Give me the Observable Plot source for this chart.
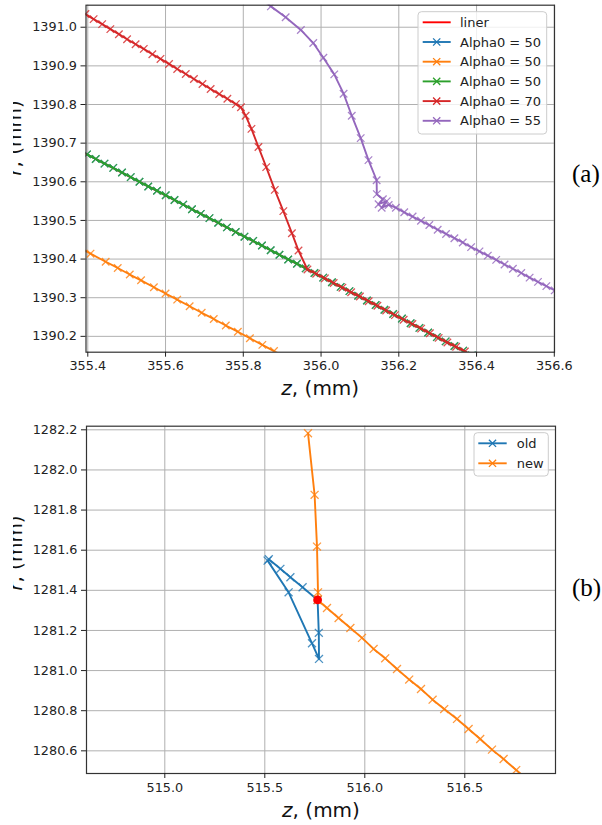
<!DOCTYPE html>
<html><head><meta charset="utf-8">
<script src="https://cdn.jsdelivr.net/npm/d3@7"></script>
<script src="https://cdn.jsdelivr.net/npm/@observablehq/plot@0.6"></script>
<style>
body{margin:0;background:#fff;width:602px;height:825px;position:relative;overflow:hidden}
#a{position:absolute;left:0;top:0}
#b{position:absolute;left:0;top:410px}
#mask{position:absolute;left:0;top:0;width:13px;height:825px;background:#fff}
</style></head><body>
<div id="a"></div><div id="b"></div><div id="mask"></div>
<script>
// ---------- Panel (a) data ----------
const namesA = ["liner", "Alpha0 = 50", "Alpha0 = 50", "Alpha0 = 50", "Alpha0 = 70", "Alpha0 = 55"];
const colorsA = ["#ff0000", "#1f77b4", "#ff7f0e", "#2ca02c", "#d62728", "#9467bd"];
const xTicksA = [355.4, 355.6, 355.8, 356.0, 356.2, 356.4, 356.6];
const yTicksA = [1390.2, 1390.3, 1390.4, 1390.5, 1390.6, 1390.7, 1390.8, 1390.9, 1391.0];

const linerZ = [355.39, 356.40];
const linerR = [1390.675, 1390.145];

const greenZ = [355.398,355.4205,355.443,355.4655,355.488,355.5105,355.533,355.5555,355.578,355.6005,355.623,355.6455,355.668,355.6905,355.713,355.7355,355.758,355.7805,355.803,355.8255,355.848,355.8705,355.893,355.9155,355.938,355.9605,355.983,356.0055,356.028,356.0505,356.073,356.0955,356.118,356.1405,356.163,356.1855,356.208,356.2305,356.253,356.2755,356.298,356.3205,356.343,356.3655,356.388];
const greenR = [1390.671,1390.659,1390.647,1390.636,1390.624,1390.612,1390.600,1390.588,1390.577,1390.565,1390.553,1390.541,1390.529,1390.517,1390.506,1390.494,1390.482,1390.470,1390.458,1390.447,1390.435,1390.423,1390.411,1390.399,1390.388,1390.376,1390.364,1390.352,1390.340,1390.328,1390.317,1390.305,1390.293,1390.281,1390.269,1390.258,1390.246,1390.234,1390.222,1390.210,1390.198,1390.187,1390.175,1390.163,1390.151];

// blue run lies under the green one
const blueZ = greenZ;
const blueR = greenR;

const orangeZ = [355.376,355.407,355.446,355.477,355.508,355.537,355.570,355.600,355.630,355.662,355.693,355.724,355.755,355.786,355.817,355.849,355.879,355.910];
const orangeR = [1390.431,1390.414,1390.393,1390.377,1390.360,1390.345,1390.327,1390.311,1390.295,1390.278,1390.261,1390.245,1390.228,1390.212,1390.195,1390.178,1390.162,1390.145];

const redZ = [355.394,355.415,355.437,355.458,355.480,355.501,355.523,355.544,355.566,355.587,355.609,355.630,355.652,355.673,355.695,355.716,355.738,355.759,355.781,355.794,
  355.806,355.821,355.839,355.859,355.881,355.903,355.925,355.942,
  355.965,355.9875,356.010,356.0325,356.055,356.0775,356.100,356.1225,356.145,356.1675,356.190,356.2125,356.235,356.2575,356.280,356.3025,356.325,356.3475,356.370,356.3925];
const redR = [1391.034,1391.021,1391.008,1390.995,1390.982,1390.969,1390.956,1390.944,1390.930,1390.918,1390.905,1390.892,1390.879,1390.866,1390.853,1390.840,1390.827,1390.815,1390.801,1390.793,
  1390.771,1390.737,1390.690,1390.638,1390.579,1390.524,1390.467,1390.422,
  1390.373,1390.362,1390.350,1390.338,1390.326,1390.314,1390.303,1390.291,1390.279,1390.267,1390.255,1390.243,1390.232,1390.220,1390.208,1390.196,1390.184,1390.173,1390.161,1390.149];

const purpleZ = [355.835,355.871,355.909,355.948,355.980,356.006,356.034,356.058,356.079,356.102,356.122,356.143,
  356.1435,356.159,356.148,356.169,356.156,356.174,
  356.1925,356.214,356.2355,356.257,356.2785,356.300,356.3215,356.343,356.3645,356.386,356.4075,356.429,356.4505,356.472,356.4935,356.515,356.5365,356.558,356.5795,356.601,356.6225];
const purpleR = [1391.080,1391.054,1391.026,1390.993,1390.959,1390.921,1390.878,1390.828,1390.771,1390.713,1390.656,1390.604,
  1390.568,1390.555,1390.542,1390.550,1390.533,1390.540,
  1390.533,1390.521,1390.510,1390.499,1390.488,1390.476,1390.465,1390.454,1390.443,1390.431,1390.420,1390.409,1390.398,1390.386,1390.375,1390.364,1390.352,1390.341,1390.330,1390.319,1390.307];

// ---------- Panel (b) data ----------
const namesB = ["old", "new"];
const colorsB = ["#1f77b4", "#ff7f0e"];
const xTicksB = [515.0, 515.5, 516.0, 516.5];
const yTicksB = [1280.6, 1280.8, 1281.0, 1281.2, 1281.4, 1281.6, 1281.8, 1282.0, 1282.2];

const oldZ = [515.520,515.578,515.628,515.689,515.764,515.770,515.771,515.736,515.619,515.514];
const oldR = [1281.555,1281.507,1281.465,1281.415,1281.352,1281.188,1281.058,1281.136,1281.390,1281.548];

const newZ = [515.716,515.749,515.761,515.766,515.764,515.811,515.869,515.928,515.986,516.044,516.102,516.161,516.222,516.281,516.339,516.397,516.461,516.519,516.577,516.636,516.694,516.757,516.815];
const newR = [1282.183,1281.876,1281.618,1281.390,1281.352,1281.312,1281.262,1281.212,1281.163,1281.108,1281.061,1281.008,1280.955,1280.908,1280.855,1280.808,1280.759,1280.709,1280.659,1280.606,1280.559,1280.504,1280.456];

const dotZ = [515.764];
const dotR = [1281.352];

const xLabel = "z, (mm)";
const yLabel = "r, (mm)";

// ---------- helpers ----------
const rows = (zs, rs) => zs.map((z, i) => ({z, r: rs[i]}));
const fmt = d3.format(".1f");
const gridStyle = {stroke: "#b0b0b0", strokeOpacity: 1, strokeWidth: 1};

function series(data, color, withMarkers, mr) {
  const m = [Plot.line(data, {x: "z", y: "r", stroke: color, strokeWidth: 1.9, clip: true})];
  if (withMarkers) m.push(Plot.dot(data, {x: "z", y: "r", symbol: "times", r: mr, stroke: color, strokeWidth: 1.3, strokeOpacity: 0.8, clip: true}));
  return m;
}

function panel(cfg) {
  const svg = Plot.plot({
    width: 602, height: cfg.height,
    marginLeft: cfg.ml, marginRight: cfg.mr, marginTop: cfg.mt, marginBottom: cfg.mb,
    style: {fontFamily: "'DejaVu Sans', sans-serif", fontSize: "12.8px", color: "#222", background: "white", overflow: "visible"},
    x: {domain: cfg.xDomain},
    y: {domain: cfg.yDomain},
    marks: [
      Plot.gridX(cfg.xTicks, gridStyle),
      Plot.gridY(cfg.yTicks, gridStyle),
      ...cfg.marks,
      Plot.frame({stroke: "#333", strokeWidth: 1.2}),
      Plot.axisX(cfg.xTicks, {tickSize: 5, tickPadding: 4, tickFormat: fmt, label: null}),
      Plot.axisY(cfg.yTicks, {tickSize: 5, tickPadding: 4, tickFormat: fmt, label: null}),
      Plot.text([xLabel], {text: d => d, frameAnchor: "bottom", dy: cfg.xdy, lineAnchor: "bottom", fontSize: 20, fill: "#111"}),
      Plot.text([yLabel], {text: d => d, frameAnchor: "left", dx: -65, dy: cfg.ydy, rotate: -90, lineAnchor: "bottom", fontSize: 20, fill: "#111"})
    ]
  });
  d3.select(svg).selectAll("text").each(function() {
    if (this.textContent === xLabel) this.innerHTML = '<tspan font-style="italic">z</tspan>, (mm)';
    else if (this.textContent === yLabel) this.innerHTML = '<tspan font-style="italic">r</tspan>, (mm)';
  });
  return svg;
}

function legend(svg, items, box, rowY, x0, x1, tx) {
  const g = d3.select(svg).append("g").attr("text-anchor", "start");
  g.append("rect").attr("x", box[0]).attr("y", box[1]).attr("width", box[2]).attr("height", box[3])
    .attr("rx", 3.5).attr("fill", "white").attr("fill-opacity", 0.8).attr("stroke", "#cccccc").attr("stroke-width", 1);
  items.forEach((it, i) => {
    const y = rowY[0] + i * rowY[1];
    g.append("line").attr("x1", x0).attr("x2", x1).attr("y1", y).attr("y2", y)
      .attr("stroke", it.color).attr("stroke-width", 1.9);
    if (it.marker) {
      const cx = (x0 + x1) / 2, s = 3.6;
      g.append("path").attr("d", `M${cx - s},${y - s}L${cx + s},${y + s}M${cx - s},${y + s}L${cx + s},${y - s}`)
        .attr("stroke", it.color).attr("stroke-width", 1.3).attr("fill", "none");
    }
    g.append("text").attr("x", tx).attr("y", y).attr("dy", "0.36em").attr("text-anchor", "start")
      .attr("font-family", "'DejaVu Sans', sans-serif").attr("font-size", 13).attr("fill", "#222").text(it.label);
  });
}

function tag(svg, label, x, y) {
  d3.select(svg).append("text").attr("x", x).attr("y", y).attr("text-anchor", "start")
    .attr("font-family", "'Liberation Serif', 'Times New Roman', serif").attr("font-size", 25).attr("fill", "#000").text(label);
}

// ---------- Panel (a) ----------
const dataA = [rows(linerZ, linerR), rows(blueZ, blueR), rows(orangeZ, orangeR), rows(greenZ, greenR), rows(redZ, redR), rows(purpleZ, purpleR)];
const marksA = dataA.flatMap((d, i) => series(d, colorsA[i], i > 0, 3.5));
const svgA = panel({
  height: 410, ml: 85.5, mr: 48, mt: 4.7, mb: 58.3,
  xDomain: [355.3954, 356.6005], yDomain: [1390.159, 1391.057],
  xTicks: xTicksA, yTicks: yTicksA, marks: marksA, xdy: 43, ydy: -3
});
legend(svgA, namesA.map((n, i) => ({label: n, color: colorsA[i], marker: i > 0})),
  [418, 11.7, 128.7, 122.3], [22.3, 19.7], 422.7, 450.7, 460);
tag(svgA, "(a)", 572, 182);
document.getElementById("a").appendChild(svgA);

// ---------- Panel (b) ----------
const marksB = [
  ...series(rows(oldZ, oldR), colorsB[0], true, 3.7),
  ...series(rows(newZ, newR), colorsB[1], true, 3.7),
  Plot.dot(rows(dotZ, dotR), {x: "z", y: "r", r: 4.4, fill: "#ff0000", stroke: "none"})
];
const svgB = panel({
  height: 415, ml: 86, mr: 47, mt: 15.7, mb: 52,
  xDomain: [514.6085, 516.9535], yDomain: [1280.487, 1282.218],
  xTicks: xTicksB, yTicks: yTicksB, marks: marksB, xdy: 43, ydy: -9
});
legend(svgB, namesB.map((n, i) => ({label: n, color: colorsB[i], marker: true})),
  [474, 22.7, 74.3, 43.3], [33.3, 20], 478.3, 506.7, 516.7);
tag(svgB, "(b)", 572, 186);
document.getElementById("b").appendChild(svgB);
</script></body></html>
